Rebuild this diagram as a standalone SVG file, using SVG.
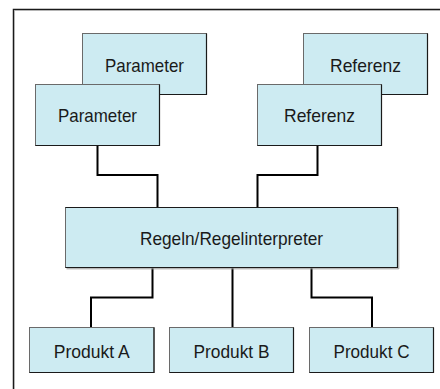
<svg xmlns="http://www.w3.org/2000/svg" width="440" height="389" viewBox="0 0 440 389">
  <style>
    .box { fill: #cdebf2; stroke: #6a6a6a; stroke-width: 1; }
    .edge { fill: none; stroke: #1a1a1a; stroke-width: 1.2; }
    .shadow { fill: none; stroke: #9a9a9a; stroke-width: 1; }
    .label { font-family: "Liberation Sans", Arial, sans-serif; font-size: 18.5px; fill: #1a1a1a; text-anchor: middle; }
    .wire { fill: none; stroke: #000; stroke-width: 2; stroke-linejoin: miter; }
    .frame { fill: none; stroke: #1a1a1a; stroke-width: 1.5; }
  </style>

  <rect width="440" height="389" fill="#fff"/>

  <!-- frame: top rule and left rule -->
  <path class="frame" d="M13.5 389 V9.5 H440"/>
  <path d="M14.5 389 V10.5 H440" fill="none" stroke="#b0b0b0" stroke-width="0.8"/>

  <!-- connectors -->
  <g id="connectors">
    <path class="wire" d="M97.5 146 V175 H157.5 V207"/>
    <path class="wire" d="M317.5 146 V175 H257.5 V207"/>
    <path class="wire" d="M152.5 267 V297.5 H91 V328"/>
    <path class="wire" d="M232.5 267 V328"/>
    <path class="wire" d="M311.5 267 V297.5 H372 V328"/>
  </g>

  <g id="parameter-back">
    <rect class="box" x="82.5" y="33.5" width="124" height="61"/>
    <path class="edge" d="M206.5 33.5 V94.5 H82.5"/>
    <text class="label" x="144.5" y="72.3" textLength="79" lengthAdjust="spacingAndGlyphs">Parameter</text>
  </g>
  <g id="parameter">
    <rect class="box" x="35.5" y="84.5" width="124" height="61"/>
    <path class="edge" d="M159.5 84.5 V145.5 H35.5"/>
    <text class="label" x="97.5" y="122.3" textLength="79" lengthAdjust="spacingAndGlyphs">Parameter</text>
  </g>

  <g id="referenz-back">
    <rect class="box" x="303.5" y="33.5" width="124" height="61"/>
    <path class="edge" d="M427.5 33.5 V94.5 H303.5"/>
    <text class="label" x="365.5" y="72.3" textLength="71" lengthAdjust="spacingAndGlyphs">Referenz</text>
  </g>
  <g id="referenz">
    <rect class="box" x="257.5" y="84.5" width="124" height="61"/>
    <path class="edge" d="M381.5 84.5 V145.5 H257.5"/>
    <text class="label" x="319.5" y="122.3" textLength="71" lengthAdjust="spacingAndGlyphs">Referenz</text>
  </g>

  <g id="regeln">
    <rect class="box" x="65.5" y="207.5" width="332" height="60"/>
    <path class="edge" d="M65.5 207.5 H397.5 V267.5 H65.5"/>
    <path class="shadow" d="M398.8 208.5 V268.8 H66.5"/>
    <text class="label" x="231.5" y="244.8" textLength="183" lengthAdjust="spacingAndGlyphs">Regeln/Regelinterpreter</text>
  </g>

  <g id="produkt-a">
    <rect class="box" x="29.5" y="327.5" width="124.5" height="45"/>
    <path class="edge" d="M154 327.5 V372.5 H29.5"/>
    <text class="label" x="91.8" y="357.7" textLength="76" lengthAdjust="spacingAndGlyphs">Produkt A</text>
  </g>
  <g id="produkt-b">
    <rect class="box" x="169.5" y="327.5" width="124" height="45"/>
    <path class="edge" d="M293.5 327.5 V372.5 H169.5"/>
    <text class="label" x="231.5" y="357.7" textLength="76" lengthAdjust="spacingAndGlyphs">Produkt B</text>
  </g>
  <g id="produkt-c">
    <rect class="box" x="309.5" y="327.5" width="124" height="45"/>
    <path class="edge" d="M433.5 327.5 V372.5 H309.5"/>
    <text class="label" x="371.5" y="357.7" textLength="76" lengthAdjust="spacingAndGlyphs">Produkt C</text>
  </g>
</svg>
